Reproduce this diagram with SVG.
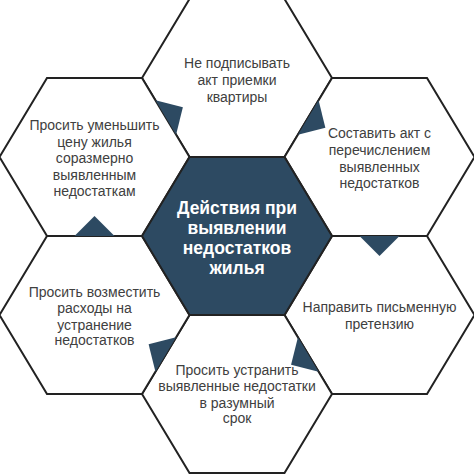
<svg xmlns="http://www.w3.org/2000/svg" width="474" height="474" viewBox="0 0 474 474">
<style>
.hex{fill:#ffffff;stroke:#222222;stroke-width:2;stroke-linejoin:miter}
.hexc{fill:#2d4a62;stroke:#222222;stroke-width:2}
.t{font-family:"Liberation Sans",Arial,sans-serif;font-size:14px;fill:#404040;text-anchor:middle}
.tc{font-family:"Liberation Sans",Arial,sans-serif;font-size:17.5px;font-weight:bold;fill:#ffffff;text-anchor:middle}
.arr{fill:#2d4a62;stroke:none}
</style>
<defs>
<polygon id="hx" points="-95,0 -47.5,-79 47.5,-79 95,0 47.5,79 -47.5,79"/>
</defs>
<rect width="474" height="474" fill="#ffffff"/>
<g id="node-top" transform="translate(237,78)">
<use href="#hx" class="hex"/>
<text class="t" x="0" y="-10">Не подписывать</text>
<text class="t" x="0" y="7">акт приемки</text>
<text class="t" x="0" y="24">квартиры</text>
</g>
<g id="node-upper-right" transform="translate(379.5,157)">
<use href="#hx" class="hex"/>
<text class="t" x="0" y="-19">Составить акт с</text>
<text class="t" x="0" y="-2">перечислением</text>
<text class="t" x="0" y="15">выявленных</text>
<text class="t" x="0" y="31">недостатков</text>
</g>
<g id="node-lower-right" transform="translate(379.5,315)">
<use href="#hx" class="hex"/>
<text class="t" x="0" y="-3">Направить письменную</text>
<text class="t" x="0" y="14">претензию</text>
</g>
<g id="node-bottom" transform="translate(237,394)">
<use href="#hx" class="hex"/>
<text class="t" x="0" y="-19">Просить устранить</text>
<text class="t" x="0" y="-3">выявленные недостатки</text>
<text class="t" x="0" y="14">в разумный</text>
<text class="t" x="0" y="29">срок</text>
</g>
<g id="node-lower-left" transform="translate(94.5,315)">
<use href="#hx" class="hex"/>
<text class="t" x="0" y="-18">Просить возместить</text>
<text class="t" x="0" y="-2">расходы на</text>
<text class="t" x="0" y="15">устранение</text>
<text class="t" x="0" y="30">недостатков</text>
</g>
<g id="node-upper-left" transform="translate(94.5,157)">
<use href="#hx" class="hex"/>
<text class="t" x="0" y="-27">Просить уменьшить</text>
<text class="t" x="0" y="-10">цену жилья</text>
<text class="t" x="0" y="6">соразмерно</text>
<text class="t" x="0" y="23">выявленным</text>
<text class="t" x="0" y="39">недостаткам</text>
</g>
<g id="node-center" transform="translate(237,236)">
<use href="#hx" class="hexc"/>
<text class="tc" x="0" y="-22">Действия при</text>
<text class="tc" x="0" y="-2">выявлении</text>
<text class="tc" x="0" y="18">недостатков</text>
<text class="tc" x="0" y="38">жилья</text>
</g>
<g id="connectors">
<polygon class="arr" points="155.45,100.36 176.05,134.64 182.9,107.2"/>
<polygon class="arr" points="318.55,100.36 297.95,134.64 325.4,127.8"/>
<polygon class="arr" points="359.5,236 399.5,236 379.5,256"/>
<polygon class="arr" points="297.95,337.36 318.55,371.64 291.1,364.8"/>
<polygon class="arr" points="176.05,337.36 155.45,371.64 148.6,344.2"/>
<polygon class="arr" points="74.5,236 114.5,236 94.5,216"/>
</g>
</svg>
